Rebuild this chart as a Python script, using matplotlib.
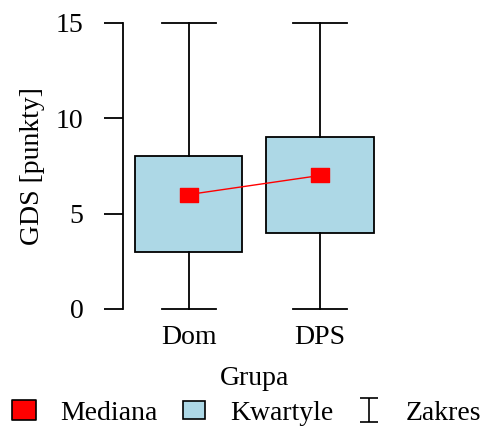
import matplotlib.pyplot as plt
from matplotlib.path import Path
from matplotlib.lines import Line2D
from matplotlib.patches import Patch

grupy = ['Dom', 'DPS']
minimum = [0, 0]
q1 = [3, 4]
mediana = [6, 7]
q3 = [8, 9]
maksimum = [15, 15]

plt.rcParams['font.family'] = ['Liberation Serif', 'DejaVu Serif']
plt.rcParams['font.size'] = 20

fig = plt.figure(figsize=(4.89, 4.28), dpi=100)
ax = fig.add_axes([123 / 489, 0.2514, 262.5 / 489, 0.7217])

stats = []
for i, g in enumerate(grupy):
    stats.append(dict(label=g, whislo=minimum[i], q1=q1[i], med=mediana[i],
                      q3=q3[i], whishi=maksimum[i], fliers=[]))

pos = [1, 2]
ax.bxp(stats, positions=pos, widths=0.82, capwidths=0.41, patch_artist=True,
       showfliers=False,
       boxprops=dict(facecolor='lightblue', edgecolor='black', linewidth=1.3),
       whiskerprops=dict(color='black', linewidth=1.3),
       capprops=dict(color='black', linewidth=1.3),
       medianprops=dict(linewidth=0))

# prostokatny znacznik (obraz jest lekko rozciagniety w poziomie)
rect = Path([(-0.6, -0.5), (0.6, -0.5), (0.6, 0.5), (-0.6, 0.5), (-0.6, -0.5)], closed=True)
ax.plot(pos, mediana, color='red', linewidth=1, marker=rect, markersize=12.5,
        markerfacecolor='red', markeredgecolor='red', zorder=5)

ax.set_xlim(0.5, 2.5)
ax.set_ylim(-0.6, 15.6)
ax.set_yticks([0, 5, 10, 15])
ax.set_xticks(pos)
ax.set_xticklabels(grupy)
for s in ['top', 'right', 'bottom']:
    ax.spines[s].set_visible(False)
ax.spines['left'].set_bounds(0, 15)
ax.spines['left'].set_linewidth(1.3)
ax.tick_params(axis='y', length=13.5, width=1.3, pad=15)
ax.tick_params(axis='x', length=0, pad=3)
ax.set_ylabel('GDS [punkty]', labelpad=8)
ax.set_xlabel('Grupa', labelpad=12)

ibeam = Path([(-0.38, 0.5), (0.38, 0.5), (0, 0.5), (0, -0.5), (-0.38, -0.5), (0.38, -0.5)],
             [Path.MOVETO, Path.LINETO, Path.MOVETO, Path.LINETO, Path.MOVETO, Path.LINETO])
uchwyty = [
    Line2D([], [], linestyle='none', marker=rect, markersize=17,
           markerfacecolor='red', markeredgecolor='black', markeredgewidth=1.2),
    Patch(facecolor='lightblue', edgecolor='black', linewidth=1.2),
    Line2D([], [], linestyle='none', marker=ibeam, markersize=17,
           markerfacecolor='none', markeredgecolor='black', markeredgewidth=1.2),
]
fig.legend(uchwyty, ['Mediana', 'Kwartyle', 'Zakres'], ncol=3, frameon=False,
           loc='center', bbox_to_anchor=(0.505, 1 - 413 / 428),
           handlelength=0.8, handleheight=0.6, handletextpad=0.9,
           columnspacing=0.9, borderaxespad=0, borderpad=0)

fig.savefig('out.png', dpi=100)
